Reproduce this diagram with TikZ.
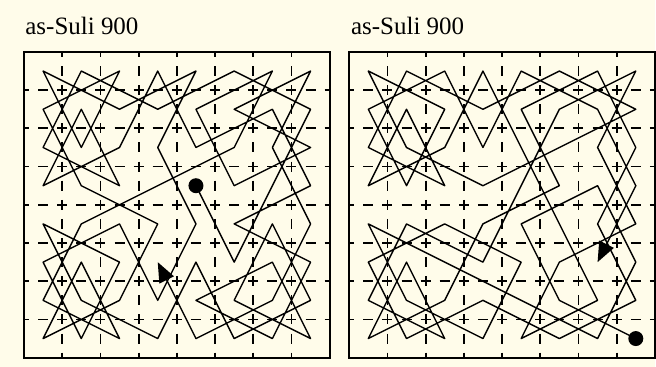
\documentclass[tikz,border=0pt]{standalone}
\usepackage{fontspec}
\setmainfont{Liberation Serif}
\usetikzlibrary{arrows.meta}
\definecolor{paper}{RGB}{255,252,234}
\begin{document}
\begin{tikzpicture}[x=0.5pt, y=-0.5pt,
    boardframe/.style={draw=black, line width=1.1pt},
    gridline/.style={draw=black, line width=0.9pt, dash pattern=on 5pt off 4.5625pt, dash phase=2.5pt},
    knight/.style={draw=black, line width=0.7pt, line join=round, line cap=round},
    startdot/.style={circle, fill=black, inner sep=0pt, minimum size=7.5pt},
    endarrow/.style={-{Triangle[length=10pt, width=8pt]}},
    boardtitle/.style={anchor=base west, inner sep=0pt, font=\fontsize{12.5}{14}\selectfont}
]
\fill[paper] (0,0) rectangle (656,367);

\foreach \bx/\b in {24/L, 349.5/R} {
  \foreach \k in {1,...,7} {
    \draw[gridline] ({\bx+38.25*\k},52) -- ({\bx+38.25*\k},358);
    \draw[gridline] (\bx,{52+38.25*\k}) -- ({\bx+306},{52+38.25*\k});
  }
  \draw[boardframe] (\bx,52) rectangle ({\bx+306},358);
  \foreach \c in {0,...,7}
    \foreach \r in {0,...,7}
      \coordinate (\b-\c-\r) at ({\bx+38.25*(\c+0.5)}, {52+38.25*(\r+0.5)});
}

\node[boardtitle] (Ltitle) at (25,35) {as-Suli 900};
\node[boardtitle] (Rtitle) at (351,35) {as-Suli 900};

\draw[knight] (L-4-3) -- (L-5-5) -- (L-6-3) -- (L-7-1) -- (L-5-0) -- (L-3-1) -- (L-1-0) -- (L-0-2)
  -- (L-2-3) -- (L-1-1) -- (L-0-3) -- (L-2-2) -- (L-3-0) -- (L-4-2) -- (L-6-1) -- (L-7-3)
  -- (L-5-4) -- (L-7-5) -- (L-6-7) -- (L-4-6) -- (L-6-5) -- (L-7-7) -- (L-5-6) -- (L-6-4)
  -- (L-7-6) -- (L-5-7) -- (L-4-5) -- (L-3-7) -- (L-1-6) -- (L-0-4) -- (L-2-5) -- (L-1-7)
  -- (L-0-5) -- (L-2-4) -- (L-3-6) -- (L-4-4) -- (L-3-2) -- (L-4-0) -- (L-2-1) -- (L-0-0)
  -- (L-1-2) -- (L-2-0) -- (L-0-1) -- (L-1-3) -- (L-3-4) -- (L-2-6) -- (L-0-7) -- (L-1-5)
  -- (L-2-7) -- (L-0-6) -- (L-1-4) -- (L-3-3) -- (L-5-2) -- (L-6-0) -- (L-4-1) -- (L-5-3)
  -- (L-7-2) -- (L-5-1) -- (L-7-0) -- (L-6-2) -- (L-7-4) -- (L-6-6) -- (L-4-7);
\draw[knight, endarrow] (L-4-7) -- (L-3-5);
\node[startdot] (Lstart) at (L-4-3) {};

\draw[knight] (R-7-7) -- (R-5-6) -- (R-4-4) -- (R-6-3) -- (R-7-5) -- (R-6-7) -- (R-4-6) -- (R-2-5)
  -- (R-0-4) -- (R-1-6) -- (R-3-7) -- (R-4-5) -- (R-2-4) -- (R-0-5) -- (R-1-7) -- (R-3-6)
  -- (R-5-7) -- (R-7-6) -- (R-6-4) -- (R-7-2) -- (R-6-0) -- (R-4-1) -- (R-5-3) -- (R-3-4)
  -- (R-2-6) -- (R-0-7) -- (R-1-5) -- (R-2-7) -- (R-0-6) -- (R-1-4) -- (R-3-5) -- (R-4-3)
  -- (R-5-1) -- (R-7-0) -- (R-6-2) -- (R-7-4) -- (R-5-5) -- (R-4-7) -- (R-6-6) -- (R-5-4)
  -- (R-4-2) -- (R-3-0) -- (R-2-2) -- (R-0-3) -- (R-1-1) -- (R-2-3) -- (R-0-2) -- (R-1-0)
  -- (R-3-1) -- (R-5-0) -- (R-7-1) -- (R-5-2) -- (R-3-3) -- (R-1-2) -- (R-0-0) -- (R-2-1)
  -- (R-1-3) -- (R-0-1) -- (R-2-0) -- (R-3-2) -- (R-4-0) -- (R-6-1) -- (R-7-3);
\draw[knight, endarrow] (R-7-3) -- (R-6-5);
\node[startdot] (Rstart) at (R-7-7) {};
\end{tikzpicture}
\end{document}
